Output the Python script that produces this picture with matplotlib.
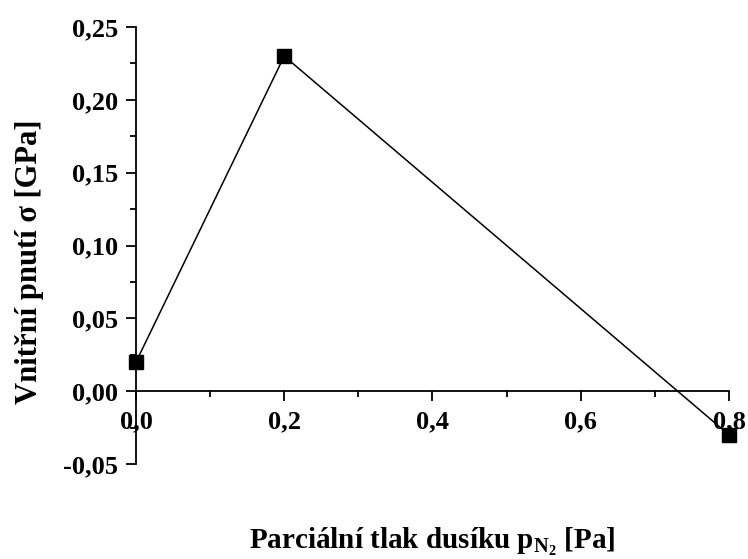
import matplotlib
matplotlib.use("Agg")
from matplotlib import pyplot as plt
from matplotlib.ticker import MultipleLocator, FuncFormatter

# tlak dusíku [Pa] a vnitřní pnutí [GPa]
tlak = [0.0, 0.2, 0.8]
pnuti = [0.02, 0.23, -0.03]

plt.rcParams['font.family'] = 'Liberation Serif'
plt.rcParams['font.weight'] = 'bold'
plt.rcParams['mathtext.fontset'] = 'custom'
plt.rcParams['mathtext.rm'] = 'Liberation Serif:bold'
plt.rcParams['mathtext.it'] = 'Liberation Serif:bold'
plt.rcParams['mathtext.bf'] = 'Liberation Serif:bold'

fig = plt.figure(figsize=(7.48, 5.59), dpi=100)
ax = fig.add_axes([0.1818, 0.1699, 0.7928, 0.7818])

ax.plot(tlak, pnuti, color='black', linewidth=1.1, marker='s',
        markersize=10, markerfacecolor='black', clip_on=False, zorder=3)

ax.set_xlim(0, 0.8)
ax.set_ylim(-0.05, 0.25)

ax.spines['top'].set_visible(False)
ax.spines['right'].set_visible(False)
ax.spines['bottom'].set_position(('data', 0))
for s in ('left', 'bottom'):
    ax.spines[s].set_linewidth(1.3)

ax.xaxis.set_major_locator(MultipleLocator(0.2))
ax.xaxis.set_minor_locator(MultipleLocator(0.1))
ax.yaxis.set_major_locator(MultipleLocator(0.05))
ax.yaxis.set_minor_locator(MultipleLocator(0.025))

carka = lambda n: FuncFormatter(lambda v, p: f"{v:.{n}f}".replace('.', ',').replace('-0,00', '0,00'))
ax.xaxis.set_major_formatter(carka(1))
ax.yaxis.set_major_formatter(carka(2))

ax.tick_params(which='major', direction='out', length=7, width=1.3, labelsize=19)
ax.tick_params(which='minor', direction='out', length=4, width=1.3)
ax.tick_params(axis='x', pad=7)
ax.tick_params(axis='y', pad=6)
for lbl in ax.get_xticklabels() + ax.get_yticklabels():
    lbl.set_fontweight('bold')

ax.set_ylabel("Vnitřní pnutí σ [GPa]", fontsize=22, fontweight='bold')
ax.yaxis.set_label_coords(-0.155, 0.462)
ax.set_xlabel(r"Parciální tlak dusíku $\mathrm{p}_{\mathrm{N}_2}$ [Pa]",
              fontsize=21, fontweight='bold')
ax.xaxis.set_label_coords(0.5, -0.142)

fig.savefig("out.png", dpi=100)
